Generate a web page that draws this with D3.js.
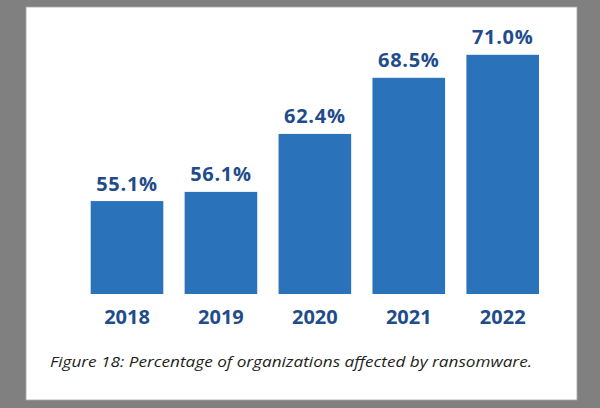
<!DOCTYPE html>
<html><head><meta charset="utf-8">
<script src="https://cdn.jsdelivr.net/npm/d3@7"></script>
<style>html,body{margin:0;padding:0;background:#808080;}svg{display:block;}</style>
</head><body>
<svg id="c" width="600" height="408"></svg>
<script>
const years = ["2018", "2019", "2020", "2021", "2022"];
const values = [55.1, 56.1, 62.4, 68.5, 71.0];
const valueLabels = ["55.1%", "56.1%", "62.4%", "68.5%", "71.0%"];
const caption = "Figure 18: Percentage of organizations affected by ransomware.";

const svg = d3.select("#c");
svg.append("rect").attr("x", 0).attr("y", 0).attr("width", 600).attr("height", 408).attr("fill", "#808080");
svg.append("rect").attr("x", 26).attr("y", 7).attr("width", 551).attr("height", 393)
  .attr("fill", "#ffffff").attr("stroke", "#a8a8a8").attr("stroke-width", 0.8);

const x = d3.scaleBand().domain(years).range([90.7, 539]).paddingInner(0.227).paddingOuter(0);
const y = d3.scaleLinear().domain([45, 75]).range([294, 18]);

const data = years.map((yr, i) => ({yr, v: values[i], lab: valueLabels[i]}));

svg.append("g").selectAll("rect").data(data).join("rect")
  .attr("x", d => x(d.yr)).attr("width", x.bandwidth())
  .attr("y", d => y(d.v)).attr("height", d => y(45) - y(d.v))
  .attr("fill", "#2a72b9");

svg.append("g").selectAll("text").data(data).join("text")
  .attr("x", d => x(d.yr) + x.bandwidth() / 2)
  .attr("y", d => y(d.v) - 10.5)
  .attr("text-anchor", "middle")
  .attr("font-family", "'Open Sans', sans-serif").attr("font-weight", 700)
  .attr("font-size", 20).attr("letter-spacing", 0.7)
  .attr("fill", "#1f4c8b")
  .text(d => d.lab);

const xAxis = d3.axisBottom(x).tickSize(0).tickPadding(0);
const gx = svg.append("g").attr("transform", "translate(0,294)").call(xAxis);
gx.select(".domain").remove();
gx.selectAll("text")
  .attr("y", 30.3).attr("dy", 0)
  .attr("font-family", "'Open Sans', sans-serif").attr("font-weight", 700)
  .attr("font-size", 20).attr("fill", "#1f4c8b");

svg.append("text").attr("x", 50).attr("y", 366.5)
  .attr("font-family", "'Open Sans', sans-serif").attr("font-style", "italic")
  .attr("font-size", 15).attr("fill", "#231f20")
  .attr("textLength", 482).attr("lengthAdjust", "spacingAndGlyphs")
  .text(caption);
</script>
</body></html>
